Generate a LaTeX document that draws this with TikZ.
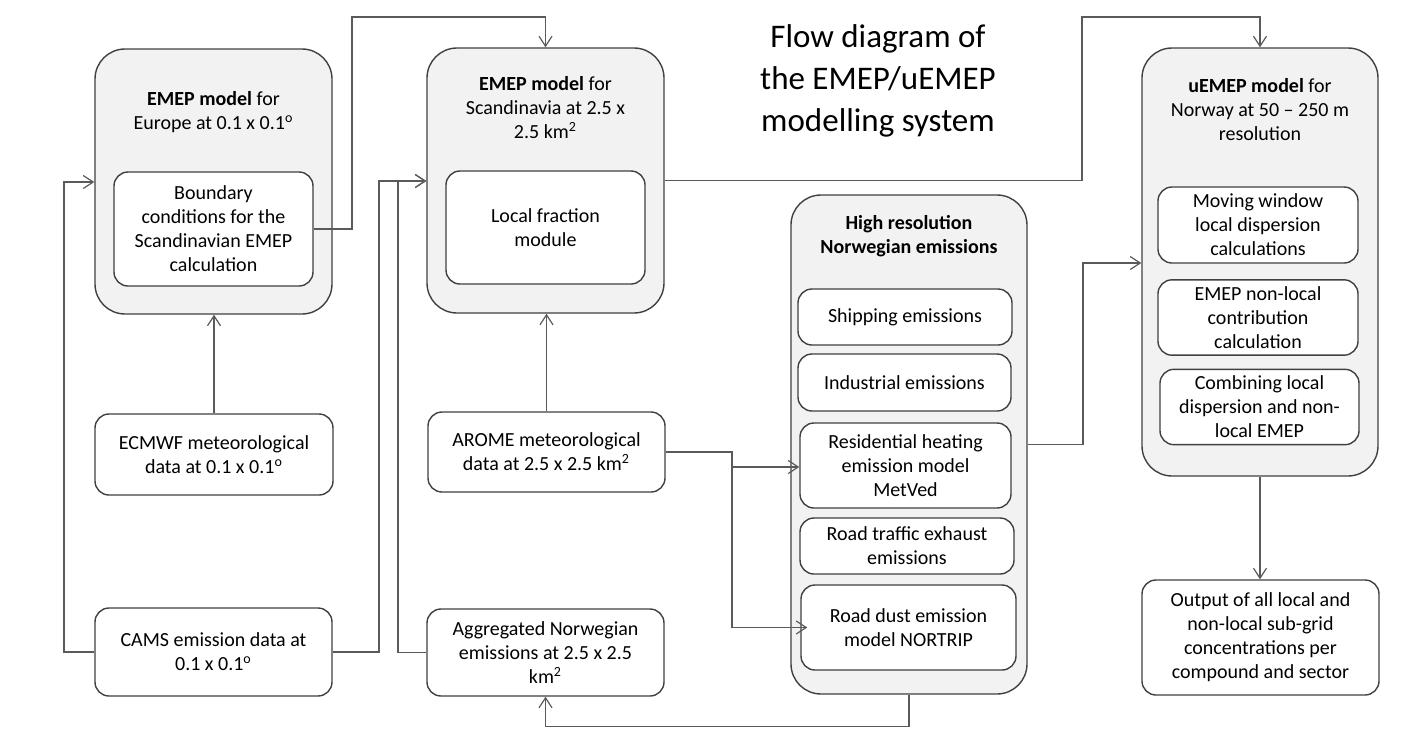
\documentclass[tikz,border=0pt]{standalone}
\usepackage{fontspec}
\setmainfont{Carlito}
\usetikzlibrary{arrows.meta}
\definecolor{boxgray}{HTML}{F2F2F2}
\definecolor{edgegray}{HTML}{404040}
\definecolor{linegray}{HTML}{5A5A5A}
\tikzset{
    x=0.5pt, y=-0.5pt, % one unit is one pixel of the figure, y runs down
    >={Straight Barb[length=5pt,width=6.5pt]}, % open arrow heads
    every node/.style={font=\fontsize{10}{12}\selectfont, align=center},
    outerbox/.style={draw=edgegray, line width=0.7pt, fill=boxgray, rounded corners=15pt}, % the model boxes
    innerbox/.style={draw=edgegray, line width=0.7pt, fill=white, rounded corners=7pt}, % parts and data
    link/.style={->, draw=linegray, line width=0.6pt}, % connectors
}

\begin{document}
\begin{tikzpicture}
    \useasboundingbox (0,0) rectangle (1410,735);

    % title
    \node[font=\fontsize{16.5}{21}\selectfont, inner sep=0pt] (title) at (878,81)
        {Flow diagram of\\the EMEP/uEMEP\\modelling system};

    % EMEP Europe
    \node[outerbox, minimum width=118.5pt, minimum height=132.5pt] (eur) at (213.5,181.5) {};
    \node (eurtitle) at (213.5,112) {\textbf{EMEP model} for\\Europe at 0.1 x 0.1\textsuperscript{o}};
    \node[innerbox, minimum width=99.5pt, minimum height=57pt] (bc) at (213.5,229)
        {Boundary\\conditions for the\\Scandinavian EMEP\\calculation};

    % EMEP Scandinavia
    \node[outerbox, minimum width=118.5pt, minimum height=132.5pt] (scan) at (545.5,180.5) {};
    \node (scantitle) at (545.5,108) {\textbf{EMEP model} for\\Scandinavia at 2.5 x\\2.5 km\textsuperscript{2}};
    \node[innerbox, minimum width=99.5pt, minimum height=56.5pt] (lf) at (545.5,227.5)
        {Local fraction\\module};

    % uEMEP
    \node[outerbox, minimum width=118pt, minimum height=214pt] (uemep) at (1260,262) {};
    \node (uemeptitle) at (1260,110) {\textbf{uEMEP model} for\\Norway at 50 -- 250 m\\resolution};
    \node[innerbox, minimum width=100pt, minimum height=38pt] (mw) at (1258,225)
        {Moving window\\local dispersion\\calculations};
    \node[innerbox, minimum width=100pt, minimum height=36.5pt] (nl) at (1258,317.5)
        {EMEP non-local\\contribution\\calculation};
    \node[innerbox, minimum width=99.5pt, minimum height=37pt] (comb) at (1259.5,407)
        {Combining local\\dispersion and non-\\local EMEP};

    % high resolution emissions
    \node[outerbox, minimum width=118pt, minimum height=249.5pt] (hires) at (909,444.5) {};
    \node (hirestitle) at (909,236) {\textbf{High resolution}\\\textbf{Norwegian emissions}};
    \node[innerbox, minimum width=107pt, minimum height=28pt] (ship) at (905,317) {Shipping emissions};
    \node[innerbox, minimum width=106.5pt, minimum height=28.5pt] (ind) at (904.5,382.5) {Industrial emissions};
    \node[innerbox, minimum width=105.5pt, minimum height=42.5pt] (res) at (905.5,465.5)
        {Residential heating\\emission model\\MetVed};
    \node[innerbox, minimum width=107pt, minimum height=28pt] (traf) at (907,546)
        {Road traffic exhaust\\emissions};
    \node[innerbox, minimum width=107.5pt, minimum height=42.5pt] (dust) at (908.5,627.5)
        {Road dust emission\\model NORTRIP};

    % input data
    \node[innerbox, minimum width=119pt, minimum height=40.5pt] (ecmwf) at (214,454.5)
        {ECMWF meteorological\\data at 0.1 x 0.1\textsuperscript{o}};
    \node[innerbox, minimum width=118.5pt, minimum height=44pt] (cams) at (213.5,652)
        {CAMS emission data at\\0.1 x 0.1\textsuperscript{o}};
    \node[innerbox, minimum width=118.5pt, minimum height=40pt] (arome) at (546.5,452)
        {AROME meteorological\\data at 2.5 x 2.5 km\textsuperscript{2}};
    \node[innerbox, minimum width=118.5pt, minimum height=43.5pt] (agg) at (545.5,652.5)
        {Aggregated Norwegian\\emissions at 2.5 x 2.5\\km\textsuperscript{2}};

    % output
    \node[innerbox, minimum width=118.5pt, minimum height=57.5pt] (out) at (1260.5,637.5)
        {Output of all local and\\non-local sub-grid\\concentrations per\\compound and sector};

    % bends of the connectors
    \coordinate (bcup) at (352,17);
    \coordinate (scanup) at (1082,17);
    \coordinate (ineur) at (64,182);
    \coordinate (inscan) at (379,181);
    \coordinate (inscanb) at (398,181);
    \coordinate (metsplit) at (732,467);
    \coordinate (inuemep) at (1083,263);

    \draw[link] (bc.east) -| (bcup) -| (scan.north);
    \draw[link] (ecmwf.north) -- (ecmwf.north |- eur.south);
    \draw[link] (cams.west) -| (ineur) -- (ineur -| eur.west);
    \draw[link] (cams.east) -| (inscan) -- (inscan -| scan.west);
    \draw[link] (agg.west) -| (inscanb) -- (inscanb -| scan.west);
    \draw[link] (arome.north) -- (arome.north |- scan.south);
    \draw[link] (arome.east) -| (metsplit) -- (metsplit -| res.west);
    \draw[link] (metsplit) |- ([xshift=3.5pt]dust.west);
    \draw[link] (hires.south) -- ++(0,32) -| (agg.south);
    \draw[link] (scan.east) -| (scanup) -| (uemep.north);
    \draw[link] (hires.east) -| (inuemep) -- (inuemep -| uemep.west);
    \draw[link] (uemep.south) -- (uemep.south |- out.north);
\end{tikzpicture}
\end{document}
